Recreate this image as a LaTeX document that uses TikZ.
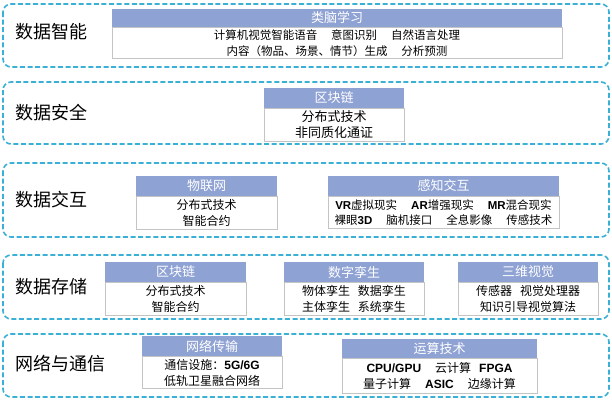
\documentclass[tikz,border=0pt]{standalone}
\usepackage{fontspec}
\setmainfont{Noto Sans CJK SC}
\newfontfamily\lat{Liberation Sans}
\newcommand\B[1]{{\lat\bfseries #1}}
\newcommand\gp{\hspace{14pt}}
\definecolor{dashc}{HTML}{3AB0D6}
\definecolor{hdrc}{HTML}{8FA2D4}
\definecolor{bordc}{HTML}{C4C4C4}
\tikzset{
  layer/.style={draw=dashc, line width=1.6pt, dash pattern=on 5pt off 2.6pt, rounded corners=8pt},
  hdr/.style={fill=hdrc, draw=none, text=white, inner sep=0pt, outer sep=0pt, font=\fontsize{13}{15}\selectfont},
  bodyb/.style={draw=bordc, line width=0.6pt, fill=white, inner sep=0pt, outer sep=0pt},
  bodyt/.style={align=center, inner sep=0pt, font=\fontsize{11.5}{15.5}\selectfont},
  big/.style={font=\fontsize{13}{16}\selectfont},
  mid/.style={font=\fontsize{12}{16}\selectfont},
  lab/.style={anchor=west, inner sep=0pt, font=\fontsize{18}{20}\selectfont}
}
\newcommand\panel[9]{%
  \node[hdr, minimum width={#3pt-#2pt}, minimum height={#5pt-#4pt}, anchor=north west] (#1h) at (#2,#4) {#7};
  \node[bodyb, minimum width={#3pt-#2pt}, minimum height={#6pt-#5pt}, anchor=north west] (#1b) at (#2,#5) {};
  \node[bodyt, #9] (#1t) at ({(#2+#3)/2},{(#5+#6)/2+0.5}) {#8};
}
\begin{document}
\begin{tikzpicture}[x=1pt,y=-1pt]
\useasboundingbox (0,0) rectangle (612,402);
\fill[white] (0,0) rectangle (612,402);
% layers
\draw[layer] (3,4) rectangle (609,67);
\draw[layer] (3,82) rectangle (609,144);
\draw[layer] (3,163) rectangle (609,237);
\draw[layer] (3,255) rectangle (609,319);
\draw[layer] (3,334) rectangle (609,397);
% labels
\node[lab] (l1) at (15,32) {数据智能};
\node[lab] (l2) at (15,113) {数据安全};
\node[lab] (l3) at (15,200) {数据交互};
\node[lab] (l4) at (15,287) {数据存储};
\node[lab] (l5) at (15,364) {网络与通信};
% panels
\panel{a}{112}{562}{9}{27}{58}{类脑学习}{计算机视觉智能语音\gp 意图识别\gp 自然语言处理\\内容（物品、场景、情节）生成\gp 分析预测}{}
\panel{b}{264}{404}{88}{108}{141}{区块链}{分布式技术\\非同质化通证}{big}
\panel{c}{136}{277}{176}{196}{229}{物联网}{分布式技术\\智能合约}{mid}
\panel{d}{328}{559}{176}{196}{228}{感知交互}{\B{VR}虚拟现实\gp \B{AR}增强现实\gp \B{MR}混合现实\\裸眼\B{3D}\gp 脑机接口\gp 全息影像\gp 传感技术}{}
\panel{e}{105}{246}{262}{282}{315}{区块链}{分布式技术\\智能合约}{mid}
\panel{f}{284}{424}{262}{282}{315}{数字孪生}{物体孪生\hspace{8pt}数据孪生\\主体孪生\hspace{8pt}系统孪生}{mid}
\panel{g}{458}{598}{262}{282}{315}{三维视觉}{传感器\hspace{8pt}视觉处理器\\知识引导视觉算法}{mid}
\panel{h}{142}{282}{336}{356}{388}{网络传输}{通信设施：\B{5G/6G}\\低轨卫星融合网络}{mid}
\panel{i}{342}{537}{339}{358}{393}{运算技术}{\B{CPU/GPU}\gp 云计算\hspace{8pt}\B{FPGA}\\量子计算\gp \B{ASIC}\gp 边缘计算}{mid}
\end{tikzpicture}
\end{document}
